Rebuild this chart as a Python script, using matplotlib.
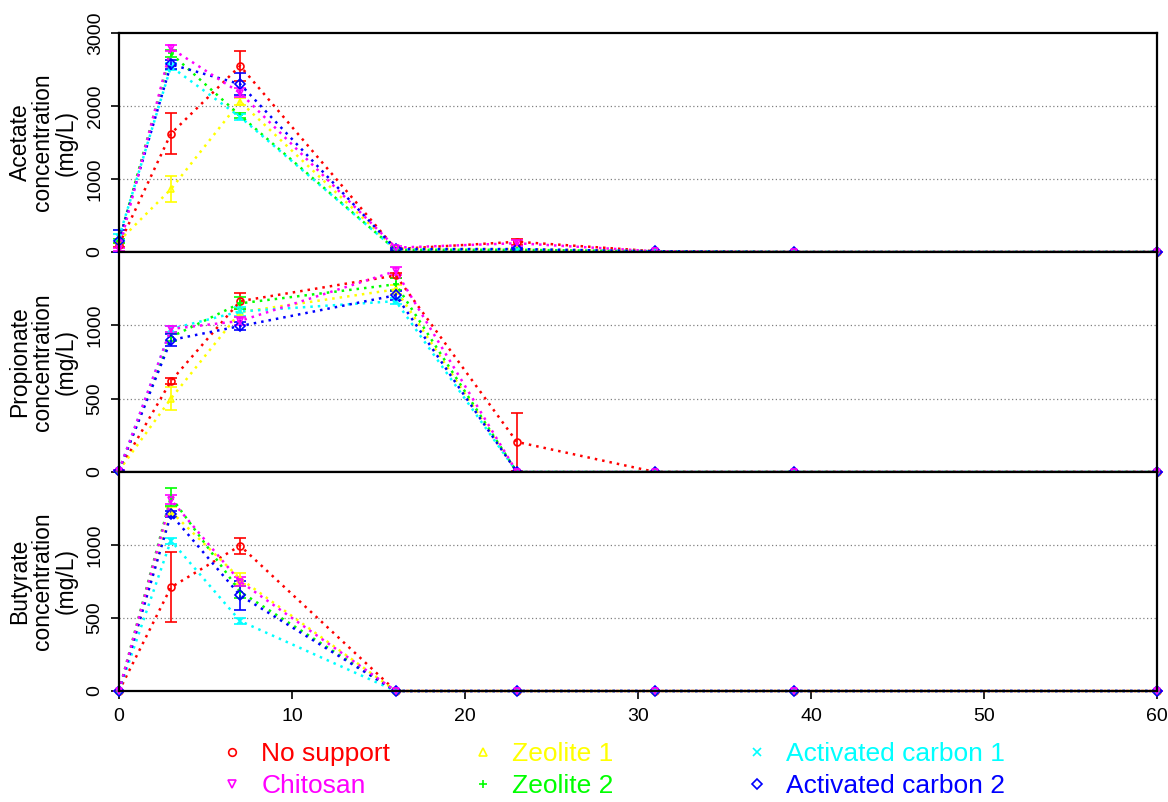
import numpy as np
import matplotlib
matplotlib.use("Agg")
import matplotlib.pyplot as plt
from matplotlib.lines import Line2D

plt.rcParams['font.family'] = ['Liberation Sans', 'DejaVu Sans']

# sampling days
days = [0, 3, 7, 16, 23, 31, 39, 60]

names = ["No support", "Chitosan", "Zeolite 1", "Zeolite 2",
         "Activated carbon 1", "Activated carbon 2"]
colors = ["#FF0000", "#FF00FF", "#FFFF00", "#00FF00", "#00FFFF", "#0000FF"]
markers = ["o", "v", "^", "+", "x", "D"]

# acetate (mg/L) and standard deviations
acetate = {
    "No support":         [100, 1620, 2550, 40, 140, 10, 0, 0],
    "Chitosan":           [40, 2790, 2180, 60, 120, 10, 0, 0],
    "Zeolite 1":          [150, 860, 2060, 40, 40, 10, 0, 0],
    "Zeolite 2":          [150, 2720, 1870, 30, 30, 10, 0, 0],
    "Activated carbon 1": [200, 2540, 1850, 30, 30, 10, 0, 0],
    "Activated carbon 2": [150, 2570, 2300, 40, 40, 10, 0, 0],
}
acetate_sd = {
    "No support":         [30, 280, 210, 20, 40, 5, 0, 0],
    "Chitosan":           [20, 40, 60, 20, 40, 5, 0, 0],
    "Zeolite 1":          [30, 180, 50, 10, 10, 5, 0, 0],
    "Zeolite 2":          [30, 50, 40, 10, 10, 5, 0, 0],
    "Activated carbon 1": [40, 50, 40, 10, 10, 5, 0, 0],
    "Activated carbon 2": [150, 60, 150, 10, 10, 5, 0, 0],
}

# propionate (mg/L)
propionate = {
    "No support":         [10, 620, 1165, 1340, 205, 0, 0, 0],
    "Chitosan":           [10, 975, 1030, 1370, 0, 0, 0, 0],
    "Zeolite 1":          [10, 500, 1090, 1245, 0, 0, 0, 0],
    "Zeolite 2":          [10, 920, 1150, 1280, 0, 0, 0, 0],
    "Activated carbon 1": [10, 975, 1095, 1165, 0, 0, 0, 0],
    "Activated carbon 2": [10, 900, 995, 1205, 0, 0, 0, 0],
}
propionate_sd = {
    "No support":         [5, 20, 55, 20, 200, 0, 0, 0],
    "Chitosan":           [5, 20, 30, 25, 0, 0, 0, 0],
    "Zeolite 1":          [5, 80, 30, 30, 0, 0, 0, 0],
    "Zeolite 2":          [5, 30, 40, 40, 0, 0, 0, 0],
    "Activated carbon 1": [5, 20, 30, 20, 0, 0, 0, 0],
    "Activated carbon 2": [5, 40, 30, 30, 0, 0, 0, 0],
}

# butyrate (mg/L)
butyrate = {
    "No support":         [0, 710, 995, 0, 0, 0, 0, 0],
    "Chitosan":           [0, 1310, 750, 0, 0, 0, 0, 0],
    "Zeolite 1":          [0, 1230, 770, 0, 0, 0, 0, 0],
    "Zeolite 2":          [0, 1330, 680, 0, 0, 0, 0, 0],
    "Activated carbon 1": [0, 1030, 480, 0, 0, 0, 0, 0],
    "Activated carbon 2": [0, 1210, 655, 0, 0, 0, 0, 0],
}
butyrate_sd = {
    "No support":         [0, 240, 55, 0, 0, 0, 0, 0],
    "Chitosan":           [0, 30, 30, 0, 0, 0, 0, 0],
    "Zeolite 1":          [0, 30, 40, 0, 0, 0, 0, 0],
    "Zeolite 2":          [0, 60, 40, 0, 0, 0, 0, 0],
    "Activated carbon 1": [0, 20, 20, 0, 0, 0, 0, 0],
    "Activated carbon 2": [0, 20, 100, 0, 0, 0, 0, 0],
}

panels = [
    ("Acetate\nconcentration\n(mg/L)", acetate, acetate_sd, 3000, [0, 1000, 2000, 3000]),
    ("Propionate\nconcentration\n(mg/L)", propionate, propionate_sd, 1500, [0, 500, 1000]),
    ("Butyrate\nconcentration\n(mg/L)", butyrate, butyrate_sd, 1500, [0, 500, 1000]),
]

W, H = 1168, 802
fig = plt.figure(figsize=(W / 100, H / 100), dpi=100)

left, right = 119 / W, 1157 / W
edges = [33, 252, 472, 691]   # pixel rows of panel borders
draw_order = [0, 2, 3, 4, 5, 1]  # magenta drawn last

for i, (ylab, data, sd, ytop, yt) in enumerate(panels):
    b = 1 - edges[i + 1] / H
    h = (edges[i + 1] - edges[i]) / H
    ax = fig.add_axes([left, b, right - left, h])
    for k in draw_order:
        n = names[k]
        ax.errorbar(days, data[n], yerr=sd[n], color=colors[k],
                    marker=markers[k], markersize=5, mfc='none', mew=1.2,
                    linestyle=(0, (1, 2)), linewidth=1.8,
                    elinewidth=1.2, capsize=4.5, capthick=1.2, clip_on=False)
    ax.set_xlim(0, 60)
    ax.set_ylim(0, ytop)
    ax.set_yticks(yt)
    ax.set_yticklabels([str(v) for v in yt], rotation=90, va='center', fontsize=14)
    for g in yt[1:]:
        if g < ytop:
            ax.axhline(g, color='gray', linestyle=(0, (1, 2)), linewidth=0.9, zorder=0)
    for s in ax.spines.values():
        s.set_linewidth(1.6)
    ax.tick_params(axis='y', direction='out', length=6, width=1.2, pad=5)
    if i < 2:
        ax.tick_params(axis='x', bottom=False, labelbottom=False)
    else:
        ax.set_xticks(range(0, 61, 10))
        ax.tick_params(axis='x', direction='out', length=6, width=1.2,
                       labelsize=14, pad=6)
    ax.set_ylabel(ylab, fontsize=16.5, linespacing=1.0)
    ax.yaxis.set_label_coords(-0.04, 0.5)

# legend in three columns below the plots
col_left = [219 / W, 470 / W, 744 / W]
col_items = [[0, 1], [2, 3], [4, 5]]
for c in range(3):
    idx = col_items[c]
    handles = [Line2D([], [], color=colors[k], marker=markers[k], mfc='none',
                      markersize=5.5, mew=1.2, linestyle='none') for k in idx]
    fig.legend(handles, [names[k] for k in idx], loc='center left',
               bbox_to_anchor=(col_left[c], 1 - 770 / H), frameon=False,
               fontsize=19, handlelength=1, handletextpad=0.6,
               labelspacing=0.3, borderpad=0, borderaxespad=0,
               labelcolor=[colors[k] for k in idx])

fig.savefig("out.png", dpi=100)
